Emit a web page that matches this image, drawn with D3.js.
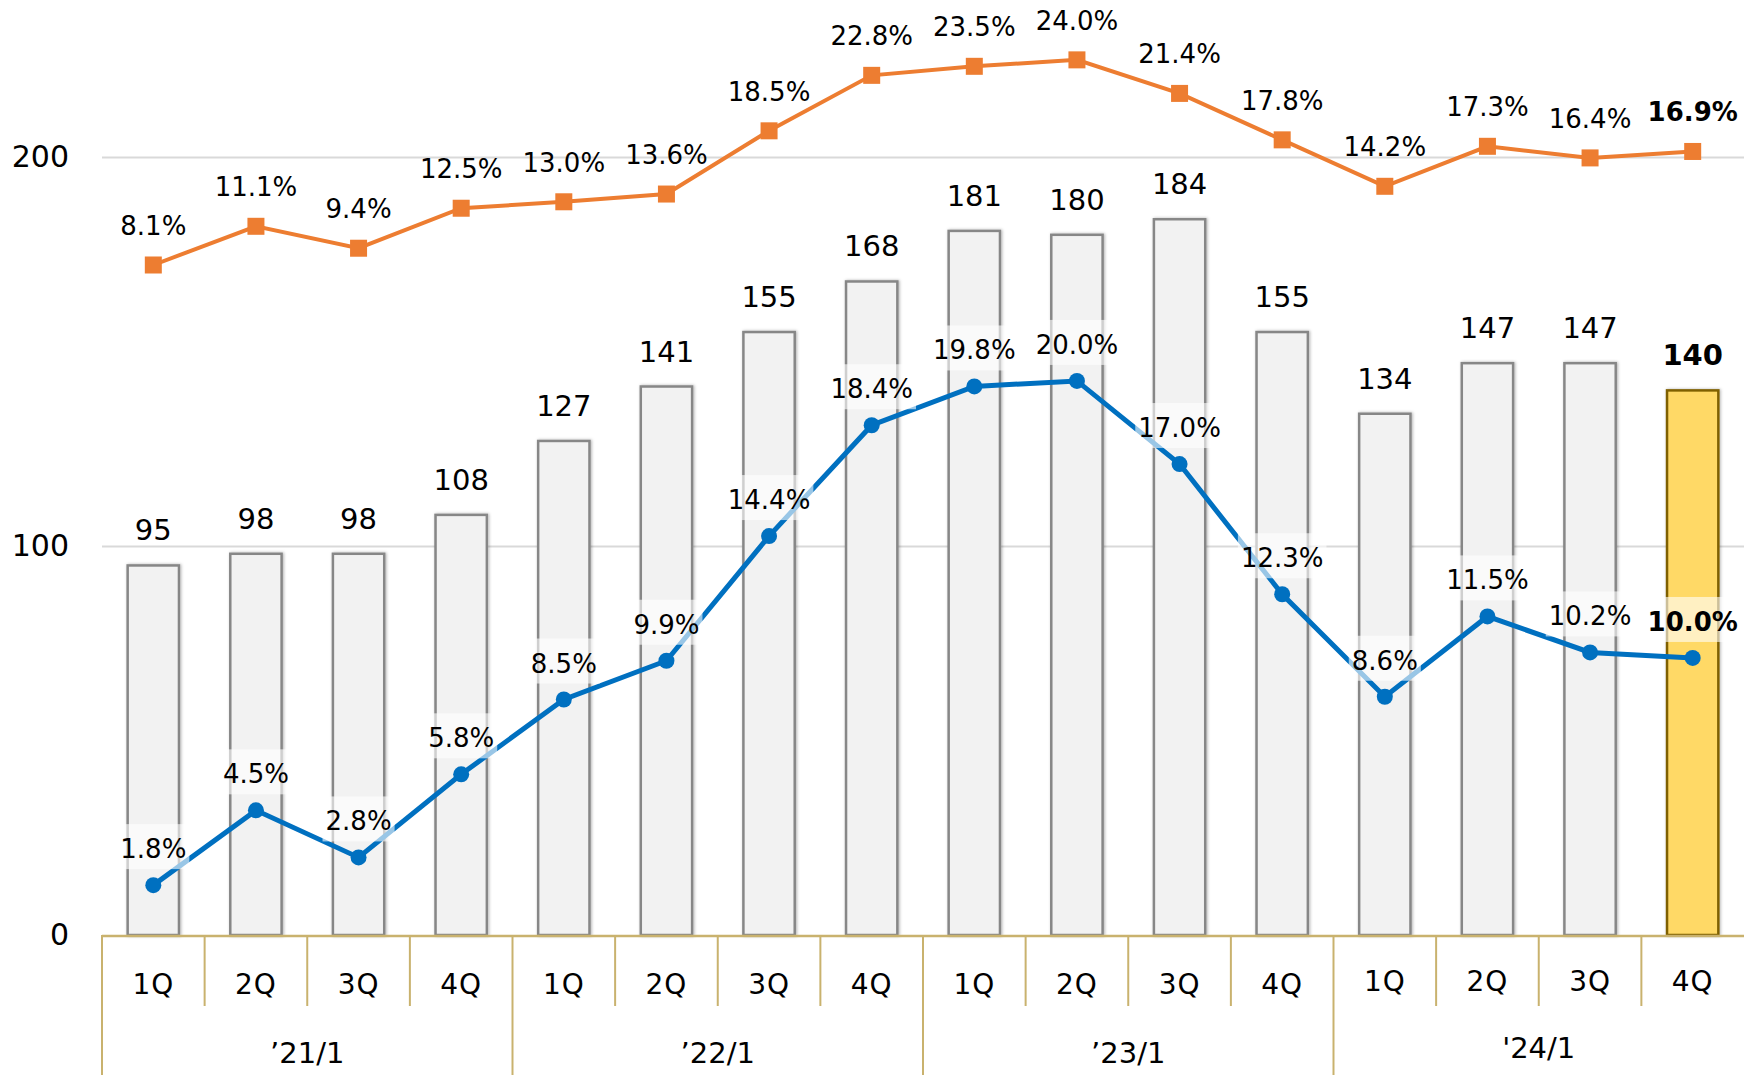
<!DOCTYPE html>
<html>
<head>
<meta charset="utf-8">
<script src="https://cdn.jsdelivr.net/npm/d3@7.9.0/dist/d3.min.js"></script>
<style>
  html, body { margin: 0; padding: 0; background: #fff; }
  svg { display: block; font-family: 'DejaVu Sans', Verdana, sans-serif; }
</style>
</head>
<body>
<svg id="chart" width="1744" height="1075"></svg>
<script>
// quarterly data, '21/1 .. '24/1
const years = ['\u201921/1', '\u201922/1', '\u201923/1', '\'24/1'];
const quarters = ['1Q', '2Q', '3Q', '4Q'];
const sales = [95, 98, 98, 108, 127, 141, 155, 168, 181, 180, 184, 155, 134, 147, 147, 140];
const upperRate = [8.1, 11.1, 9.4, 12.5, 13.0, 13.6, 18.5, 22.8, 23.5, 24.0, 21.4, 17.8, 14.2, 17.3, 16.4, 16.9];
const lowerRate = [1.8, 4.5, 2.8, 5.8, 8.5, 9.9, 14.4, 18.4, 19.8, 20.0, 17.0, 12.3, 8.6, 11.5, 10.2, 10.0];
const yTicks = [0, 100, 200];

const cats = years.flatMap(y => quarters.map(q => ({ year: y, q, id: y + q })));
const rows = cats.map((c, i) => ({ ...c, i, sales: sales[i], up: upperRate[i], low: lowerRate[i], last: i === cats.length - 1 }));

const W = 1744, H = 1075;
const m = { left: 102, right: 0, base: 935 };

const svg = d3.select('#chart');

const defs = svg.append('defs');
const sh = defs.append('filter').attr('id', 'shadow')
  .attr('x', '-20%').attr('y', '-5%').attr('width', '140%').attr('height', '110%');
sh.append('feDropShadow').attr('dx', 1).attr('dy', 0).attr('stdDeviation', 1.6)
  .attr('flood-color', '#000').attr('flood-opacity', 0.3);

const x = d3.scaleBand()
  .domain(rows.map(d => d.id))
  .range([m.left, W - m.right])
  .paddingInner(0.5)
  .paddingOuter(0.25);

const y = d3.scaleLinear().domain([0, 240]).range([m.base, m.base - 389 * 2.4]);
// the two rate lines sit on their own hidden scales
const yUp = d3.scaleLinear().domain([0, 28.64]).range([369.5, 0]);
const yLow = d3.scaleLinear().domain([0, 33.75]).range([m.base, 0]);

const cx = d => x(d.id) + x.bandwidth() / 2;

// gridlines
svg.append('g')
  .attr('class', 'grid')
  .attr('transform', `translate(${m.left},0)`)
  .call(d3.axisLeft(y).tickValues(yTicks.filter(t => t > 0)).tickFormat('').tickSize(-(W - m.left - m.right)))
  .call(g => g.select('.domain').remove())
  .call(g => g.selectAll('line').attr('stroke', '#d9d9d9').attr('stroke-width', 2));

// y labels
svg.append('g')
  .attr('transform', `translate(${m.left},0)`)
  .call(d3.axisLeft(y).tickValues(yTicks).tickSize(0).tickPadding(33))
  .call(g => g.select('.domain').remove())
  .call(g => g.selectAll('text')
    .attr('font-size', 30).attr('fill', '#000')
    .attr('font-family', "'DejaVu Sans', sans-serif"));

// bars
svg.append('g')
  .selectAll('rect')
  .data(rows)
  .join('rect')
    .attr('x', d => x(d.id))
    .attr('y', d => y(d.sales))
    .attr('width', x.bandwidth())
    .attr('height', d => y(0) - y(d.sales))
    .attr('fill', d => d.last ? '#ffd966' : '#f2f2f2')
    .attr('stroke', d => d.last ? '#7f6000' : '#878787')
    .attr('stroke-width', 2.5)
    .attr('filter', 'url(#shadow)');

svg.append('g')
  .selectAll('text')
  .data(rows)
  .join('text')
    .attr('x', cx)
    .attr('y', d => y(d.sales) - 25)
    .attr('text-anchor', 'middle')
    .attr('font-size', 29)
    .attr('font-weight', d => d.last ? 'bold' : 'normal')
    .attr('fill', '#000')
    .text(d => d.sales);

// x axis: baseline, separators, labels
const step = x.step();
const xAxis = svg.append('g').attr('class', 'x-axis');
xAxis.append('line')
  .attr('x1', m.left).attr('x2', W)
  .attr('y1', m.base + 1).attr('y2', m.base + 1)
  .attr('stroke', '#c9b26e').attr('stroke-width', 2.5);
xAxis.selectAll('line.sep')
  .data(rows)
  .join('line')
    .attr('class', 'sep')
    .attr('x1', d => cx(d) - step / 2)
    .attr('x2', d => cx(d) - step / 2)
    .attr('y1', m.base)
    .attr('y2', d => d.q === '1Q' ? H : 1006)
    .attr('stroke', '#c9b26e').attr('stroke-width', 2);
xAxis.selectAll('text.q')
  .data(rows)
  .join('text')
    .attr('class', 'q')
    .attr('x', cx)
    .attr('y', d => d.year === years[3] ? 991 : 994)
    .attr('text-anchor', 'middle')
    .attr('font-size', 28)
    .attr('letter-spacing', 1)
    .attr('fill', '#000')
    .text(d => d.q);
xAxis.selectAll('text.yr')
  .data(years)
  .join('text')
    .attr('class', 'yr')
    .attr('x', (yr) => {
      const g = rows.filter(r => r.year === yr);
      return (cx(g[0]) + cx(g[g.length - 1])) / 2;
    })
    .attr('y', (yr, i) => i === 3 ? 1058 : 1063)
    .attr('text-anchor', 'middle')
    .attr('font-size', 29)
    .attr('fill', '#000')
    .text(d => d);

// upper (orange) line
const upLine = d3.line().x(cx).y(d => yUp(d.up));
svg.append('path')
  .datum(rows)
  .attr('d', upLine)
  .attr('fill', 'none')
  .attr('stroke', '#ed7d31')
  .attr('stroke-width', 4);
svg.append('g')
  .selectAll('rect')
  .data(rows)
  .join('rect')
    .attr('x', d => cx(d) - 8.5)
    .attr('y', d => yUp(d.up) - 8.5)
    .attr('width', 17).attr('height', 17)
    .attr('fill', '#ed7d31');
svg.append('g')
  .selectAll('text')
  .data(rows)
  .join('text')
    .attr('x', cx)
    .attr('y', d => yUp(d.up) - 30)
    .attr('text-anchor', 'middle')
    .attr('font-size', 26)
    .attr('font-weight', d => d.last ? 'bold' : 'normal')
    .attr('fill', '#000')
    .text(d => d.up.toFixed(1) + '%');

// lower (blue) line
const lowLine = d3.line().x(cx).y(d => yLow(d.low));
svg.append('path')
  .datum(rows)
  .attr('d', lowLine)
  .attr('fill', 'none')
  .attr('stroke', '#0070c0')
  .attr('stroke-width', 5);
svg.append('g')
  .selectAll('circle')
  .data(rows)
  .join('circle')
    .attr('cx', cx)
    .attr('cy', d => yLow(d.low))
    .attr('r', 8)
    .attr('fill', '#0070c0');

const lowLabels = svg.append('g')
  .selectAll('g')
  .data(rows)
  .join('g');
lowLabels.append('rect').attr('class', 'bg');
lowLabels.append('text')
  .attr('x', cx)
  .attr('y', d => yLow(d.low) - 27)
  .attr('text-anchor', 'middle')
  .attr('font-size', 26)
  .attr('font-weight', d => d.last ? 'bold' : 'normal')
  .attr('fill', '#000')
  .text(d => d.low.toFixed(1) + '%');
lowLabels.each(function() {
  const g = d3.select(this);
  const b = g.select('text').node().getBBox();
  const base = +g.select('text').attr('y');
  g.select('rect.bg')
    .attr('x', b.x - 3)
    .attr('width', b.width + 6)
    .attr('y', base - 34)
    .attr('height', 45)
    .attr('fill', '#fff')
    .attr('fill-opacity', 0.6);
});
</script>
</body>
</html>
